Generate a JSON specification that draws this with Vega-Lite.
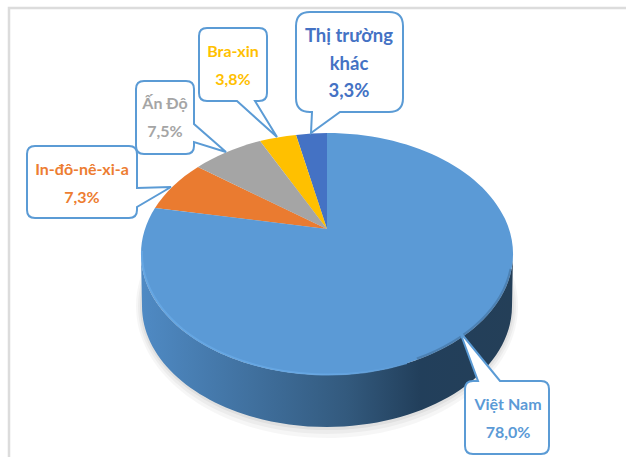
{"$schema":"https://vega.github.io/schema/vega-lite/v6.json","width":626,"height":457,"padding":0,"autosize":{"type":"none"},"background":"white","config":{"view":{"stroke":null}},
"data":{"values":[
{"thi_truong":"Thị trường khác","ty_le":3.3,"nhan":"Thị trường\nkhác\n3,3%"},
{"thi_truong":"Bra-xin","ty_le":3.8,"nhan":"Bra-xin\n3,8%"},
{"thi_truong":"In-đô-nê-xi-a","ty_le":7.3,"nhan":"In-đô-nê-xi-a\n7,3%"},
{"thi_truong":"Ấn Độ","ty_le":7.5,"nhan":"Ấn Độ\n7,5%"},
{"thi_truong":"Việt Nam","ty_le":78.0,"nhan":"Việt Nam\n78,0%"}]},
"encoding":{
"x":{"field":"ty_le","type":"quantitative","axis":null,"scale":{"domain":[3.3,78],"range":[327,327],"nice":false,"zero":false}},
"y":{"field":"ty_le","type":"quantitative","axis":null,"scale":{"domain":[3.3,78],"range":[229,229],"nice":false,"zero":false}}},
"layer":[
{"transform":[{"filter":{"field":"thi_truong","equal":"Việt Nam"}}],"mark":{"type":"point","shape":"M-318 228V-221H299","size":4,"filled":false,"stroke":"#dcdcdc","strokeWidth":2.5,"opacity":1}},
{"transform":[{"filter":{"field":"thi_truong","equal":"Việt Nam"}}],"mark":{"type":"point","shape":"M-191 77A191 132 0 1 0 191 77A191 132 0 1 0 -191 77Z","size":4,"filled":true,"fill":"#000","opacity":0.035,"strokeWidth":0}},
{"transform":[{"filter":{"field":"thi_truong","equal":"Việt Nam"}}],"mark":{"type":"point","shape":"M-189 77A189 128 0 1 0 189 77A189 128 0 1 0 -189 77Z","size":4,"filled":true,"fill":"#000","opacity":0.04,"strokeWidth":0}},
{"transform":[{"filter":{"field":"thi_truong","equal":"Việt Nam"}}],"mark":{"type":"point","shape":"M-187 77A187 124 0 1 0 187 77A187 124 0 1 0 -187 77Z","size":4,"filled":true,"fill":"#000","opacity":0.05,"strokeWidth":0}},
{"transform":[{"filter":{"field":"thi_truong","equal":"Việt Nam"}}],"mark":{"type":"point","shape":"M-186 25A186 121 0 0 0 186 25L185 77A185 121 0 0 1 -185 77Z","size":4,"filled":true,"opacity":1,"strokeWidth":0,"fill":{"gradient":"linear","x1":0,"y1":0,"x2":1,"y2":0,"stops":[{"offset":0,"color":"#4f8ac4"},{"offset":0.3,"color":"#40709e"},{"offset":0.55,"color":"#335a7e"},{"offset":0.75,"color":"#223f5b"},{"offset":1,"color":"#243f58"}]}}},
{"mark":{"type":"point","size":4,"filled":true,"opacity":1,"strokeWidth":0},
"encoding":{"shape":{"field":"thi_truong","type":"nominal","legend":null,"scale":{"domain":["Thị trường khác","Bra-xin","Ấn Độ","In-đô-nê-xi-a","Việt Nam"],"range":["M0 0L0 -96A186 121 0 0 0 -31 -94Z","M0 0L-31 -94A186 121 0 0 0 -67 -88Z","M0 0L-67 -88A186 121 0 0 0 -129 -62Z","M0 0L-129 -62A186 121 0 0 0 -172 -21Z","M0 0L-172 -21A186 121 0 1 0 0 -96Z"]}},
"color":{"field":"thi_truong","type":"nominal","legend":null,"scale":{"domain":["Thị trường khác","Bra-xin","Ấn Độ","In-đô-nê-xi-a","Việt Nam"],"range":["#4472c4","#ffc000","#a5a5a5","#ea7b30","#5b9ad6"]}}}},
{"transform":[{"filter":{"field":"thi_truong","equal":"Việt Nam"}}],"mark":{"type":"point","shape":"M-185 22A186 121 0 0 0 80 134","size":4,"filled":false,"opacity":0.8,"strokeWidth":2,"stroke":{"gradient":"linear","x1":0,"y1":0,"x2":1,"y2":0,"stops":[{"offset":0,"color":"#68a9e6"},{"offset":0.7,"color":"#68a9e6"},{"offset":1,"color":"#5b9ad6"}]}}},
{"transform":[{"filter":{"field":"thi_truong","equal":"Việt Nam"}}],"mark":{"type":"point","shape":"M184 40A186 121 0 0 1 90 130","size":4,"filled":false,"opacity":0.3,"strokeWidth":3,"stroke":"#2a4a68"}},
{"mark":{"type":"point","size":4,"filled":true,"opacity":1,"fill":"white","stroke":"#5b9bd5","strokeWidth":2},
"encoding":{
"x":{"field":"ty_le","type":"quantitative","axis":null,"scale":{"domain":[3.3,3.8,7.3,7.5,78],"range":[349,233,82,165,508],"nice":false,"zero":false}},
"y":{"field":"ty_le","type":"quantitative","axis":null,"scale":{"domain":[3.3,3.8,7.3,7.5,78],"range":[63,66,184,118,419],"nice":false,"zero":false}},
"shape":{"field":"thi_truong","type":"nominal","legend":null,"scale":{"domain":["Thị trường khác","Bra-xin","Ấn Độ","In-đô-nê-xi-a","Việt Nam"],"range":[
"M-39 -51H40Q54 -51 54 -37V35Q54 49 40 49H-9L-38 70L-37 49H-39Q-53 49 -53 35V-37Q-53 -51 -39 -51Z",
"M-26 -38H26Q34 -38 34 -30V27Q34 35 26 35H22L44 71L4 35H-26Q-34 35 -34 27V-30Q-34 -38 -26 -38Z",
"M-21 -37H21Q29 -37 29 -29V6L61 34L29 24V28Q29 36 21 36H-21Q-29 36 -29 28V-29Q-29 -37 -21 -37Z",
"M-47 -38H47Q55 -38 55 -30V4L89 3L55 23V26Q55 34 47 34H-47Q-55 34 -55 26V-30Q-55 -38 -47 -38Z",
"M-35 -38H-30L-48 -87L-8 -38H33Q41 -38 41 -30V27Q41 35 33 35H-35Q-43 35 -43 27V-30Q-43 -38 -35 -38Z"]}}}},
{"mark":{"type":"text","lineBreak":"\n","lineHeight":27.5,"font":"Lato","fontWeight":"bold","align":"center","baseline":"middle"},
"encoding":{
"x":{"field":"ty_le","type":"quantitative","axis":null,"scale":{"domain":[3.3,3.8,7.3,7.5,78],"range":[349,233,82,165,508],"nice":false,"zero":false}},
"y":{"field":"ty_le","type":"quantitative","axis":null,"scale":{"domain":[3.3,3.8,7.3,7.5,78],"range":[36,52,170,104,405],"nice":false,"zero":false}},
"size":{"field":"ty_le","type":"quantitative","legend":null,"scale":{"domain":[3.3,3.8],"range":[18.5,16],"clamp":true,"nice":false,"zero":false}},
"text":{"field":"nhan","type":"nominal"},
"color":{"field":"thi_truong","type":"nominal","legend":null,"scale":{"domain":["Thị trường khác","Bra-xin","Ấn Độ","In-đô-nê-xi-a","Việt Nam"],"range":["#4472c4","#ffc000","#a5a5a5","#ed7d31","#5b9ad6"]}}}}
],
"resolve":{"scale":{"x":"independent","y":"independent","shape":"independent","color":"independent"}}}
